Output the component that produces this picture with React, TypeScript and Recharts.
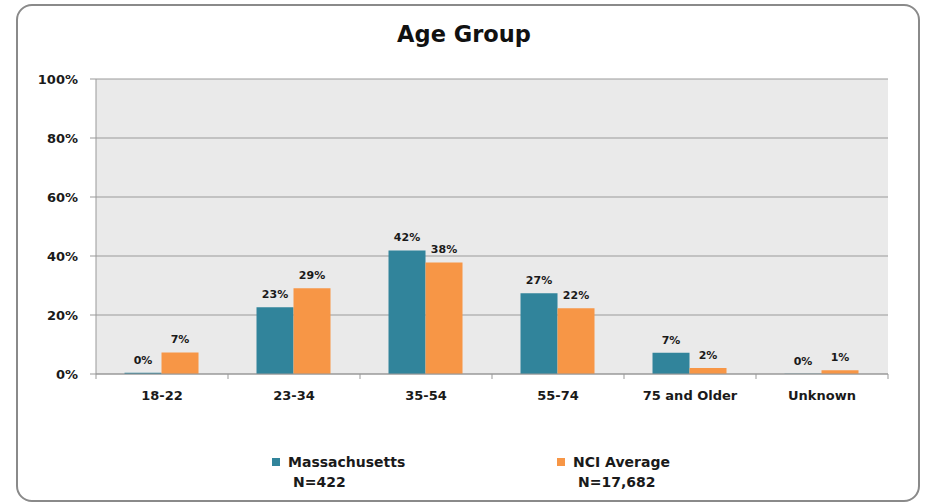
import { BarChart, Bar, XAxis, YAxis, CartesianGrid, LabelList } from 'recharts';

const categories = ['18-22', '23-34', '35-54', '55-74', '75 and Older', 'Unknown'];
const massachusetts = [0.4, 22.6, 41.9, 27.4, 7.2, 0.1];
const nciAverage = [7.3, 29.1, 37.8, 22.3, 2.0, 1.3];
const yTicks = [0, 20, 40, 60, 80, 100];

const seriesInfo = [
  { key: 'ma', name: 'Massachusetts', n: 'N=422', color: '#31849B' },
  { key: 'nci', name: 'NCI Average', n: 'N=17,682', color: '#F79646' },
];

const data = categories.map((c, i) => ({ cat: c, ma: massachusetts[i], nci: nciAverage[i] }));

const W = 928;
const H = 504;
const PLOT_LEFT = 96;
const PLOT_RIGHT = 888;
const BAND = (PLOT_RIGHT - PLOT_LEFT) / categories.length;
const FONT = '"DejaVu Sans", Verdana, sans-serif';

const XTick = (props: any) => {
  const { x, y, payload, index } = props;
  const left = x - BAND / 2;
  return (
    <g>
      <line x1={left} y1={y} x2={left} y2={y + 5} stroke="#999" />
      {index === categories.length - 1 && (
        <line x1={left + BAND} y1={y} x2={left + BAND} y2={y + 5} stroke="#999" />
      )}
      <text x={x} y={y + 26} textAnchor="middle" fontFamily={FONT} fontWeight="bold" fontSize={13} fill="#1a1a1a">
        {payload.value}
      </text>
    </g>
  );
};

const pct = (v: any) => `${Math.round(Number(v))}%`;

export default function App() {
  return (
    <div style={{ position: 'absolute', left: 0, top: 0, width: W, height: H, background: '#fff' }}>
      <div
        style={{
          position: 'absolute',
          left: 16,
          top: 4,
          width: 900,
          height: 494,
          border: '2px solid #8a8a8a',
          borderRadius: 16,
        }}
      />
      <div
        style={{
          position: 'absolute',
          left: 0,
          width: W,
          top: 21,
          textAlign: 'center',
          fontFamily: FONT,
          fontWeight: 'bold',
          fontSize: 22.5,
          color: '#111',
        }}
      >
        Age Group
      </div>
      <div style={{ position: 'absolute', left: 0, top: 0 }}>
        <BarChart
          width={W}
          height={H}
          data={data}
          margin={{ top: 79, right: W - PLOT_RIGHT, left: 0, bottom: 100 }}
          barCategoryGap="21.6%"
          barGap={0}
        >
          <CartesianGrid vertical={false} stroke="#9a9a9a" fill="#EAEAEA" />
          <YAxis
            width={PLOT_LEFT}
            domain={[0, 100]}
            ticks={yTicks}
            tickFormatter={(v) => `${v}%`}
            stroke="#999"
            tickSize={6}
            tickMargin={12}
            tick={{ fontFamily: FONT, fontWeight: 'bold', fontSize: 13, fill: '#1a1a1a' }}
          />
          <XAxis
            dataKey="cat"
            height={30}
            stroke="#999"
            tickSize={0}
            tickMargin={0}
            tickLine={false}
            interval={0}
            tick={<XTick />}
          />
          {seriesInfo.map((s) => (
            <Bar key={s.key} dataKey={s.key} name={s.name} fill={s.color} isAnimationActive={false}>
              <LabelList
                dataKey={s.key}
                position="top"
                offset={9}
                formatter={pct}
                style={{ fontFamily: FONT, fontWeight: 'bold', fontSize: 11, fill: '#1a1a1a' }}
              />
            </Bar>
          ))}
        </BarChart>
      </div>
      {seriesInfo.map((s, i) => {
        const left = i === 0 ? 272 : 557;
        return (
          <div
            key={s.key}
            style={{
              position: 'absolute',
              left,
              top: 452,
              fontFamily: FONT,
              fontWeight: 'bold',
              fontSize: 14,
              color: '#1a1a1a',
              lineHeight: '20px',
            }}
          >
            <div style={{ display: 'flex', alignItems: 'center' }}>
              <span style={{ display: 'inline-block', width: 8, height: 8, background: s.color, marginRight: 8 }} />
              {s.name}
            </div>
            <div style={{ paddingLeft: 21 }}>{s.n}</div>
          </div>
        );
      })}
    </div>
  );
}
